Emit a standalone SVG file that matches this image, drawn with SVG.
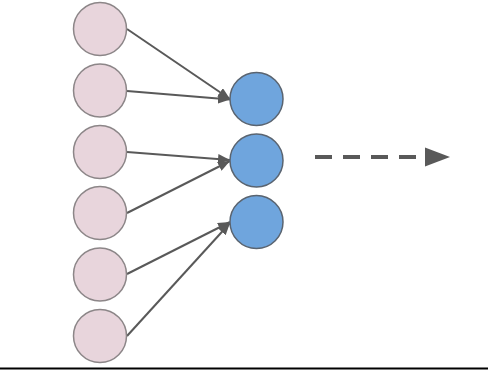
<svg xmlns="http://www.w3.org/2000/svg" width="488" height="370" viewBox="0 0 488 370">
<style>
.in{fill:#e8d5dc;stroke:#8c8688;stroke-width:1.5}
.out{fill:#6fa5dd;stroke:#5a6470;stroke-width:1.5}
.edge{stroke:#595959;stroke-width:2;fill:none}
</style>
<defs>
<marker id="ah" markerWidth="12" markerHeight="10" refX="12" refY="5" orient="auto" markerUnits="userSpaceOnUse">
<path d="M0,0 L12,5 L0,10 Z" fill="#595959"/>
</marker>
</defs>
<rect width="488" height="370" fill="#fff"/>
<g id="connectors">
<line class="edge" x1="127" y1="29" x2="230" y2="99" marker-end="url(#ah)"/>
<line class="edge" x1="127" y1="91" x2="230" y2="99.5" marker-end="url(#ah)"/>
<line class="edge" x1="127" y1="152" x2="230" y2="160" marker-end="url(#ah)"/>
<line class="edge" x1="127" y1="213" x2="230" y2="161" marker-end="url(#ah)"/>
<line class="edge" x1="127" y1="274" x2="230" y2="222" marker-end="url(#ah)"/>
<line class="edge" x1="127" y1="336" x2="230" y2="223" marker-end="url(#ah)"/>
<line x1="315" y1="157" x2="425" y2="157" stroke="#595959" stroke-width="4" stroke-dasharray="17,11"/>
<path d="M425,147.5 L450,157 L425,166.5 Z" fill="#595959"/>
</g>
<g id="in1"><circle class="in" cx="100" cy="29" r="26.5"/></g>
<g id="in2"><circle class="in" cx="100" cy="90.5" r="26.5"/></g>
<g id="in3"><circle class="in" cx="100" cy="152" r="26.5"/></g>
<g id="in4"><circle class="in" cx="100" cy="213" r="26.5"/></g>
<g id="in5"><circle class="in" cx="100" cy="274.5" r="26.5"/></g>
<g id="in6"><circle class="in" cx="100" cy="336" r="26.5"/></g>
<g id="out1"><circle class="out" cx="256.5" cy="99" r="26.5"/></g>
<g id="out2"><circle class="out" cx="256.5" cy="160.5" r="26.5"/></g>
<g id="out3"><circle class="out" cx="256.5" cy="222" r="26.5"/></g>
<line x1="0" y1="368.5" x2="488" y2="368.5" stroke="#000" stroke-width="2"/>
</svg>
